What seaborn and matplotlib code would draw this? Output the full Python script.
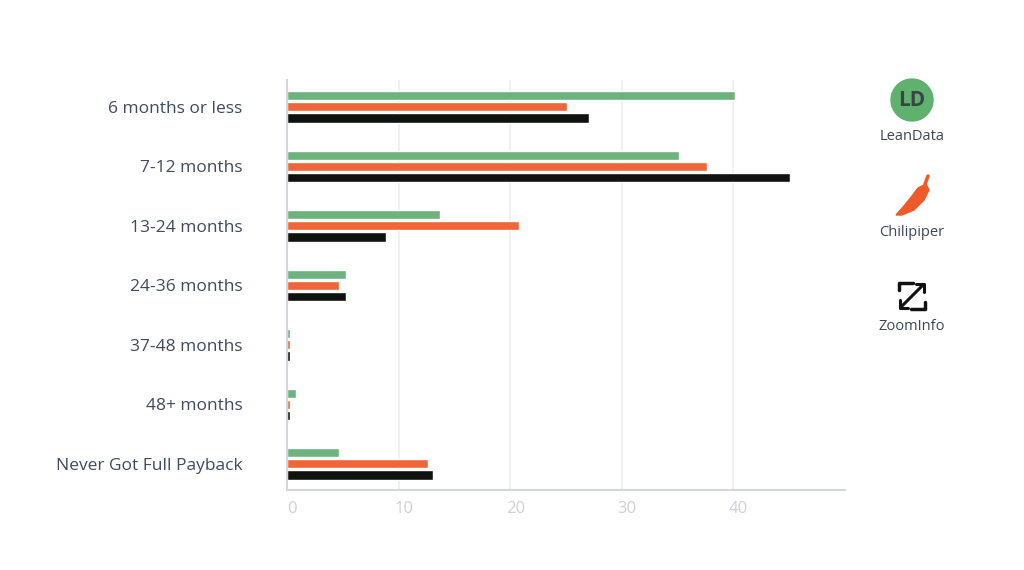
import pandas as pd
import numpy as np
import seaborn as sns
import matplotlib.pyplot as plt
import matplotlib.transforms as mtransforms
from matplotlib.patches import Circle, Polygon

"""
Data
"""
categories = ['6 months or less', '7-12 months', '13-24 months', '24-36 months',
              '37-48 months', '48+ months', 'Never Got Full Payback']
vendors = ['LeanData', 'Chilipiper', 'ZoomInfo']
leandata = [40.1, 35.1, 13.7, 5.3, 0.25, 0.8, 4.7]
chilipiper = [25.1, 37.6, 20.8, 4.7, 0.25, 0.25, 12.6]
zoominfo = [27.1, 45.1, 8.9, 5.3, 0.25, 0.25, 13.1]
x_ticks = [0, 10, 20, 30, 40]

colors = ['#6db37d', '#ee6639', '#101210']

df = pd.DataFrame({
    'Payback': categories * 3,
    'Vendor': [v for v in vendors for _ in categories],
    'Share': leandata + chilipiper + zoominfo,
})

"""
Plot
"""
sns.set_theme(style='white')
plt.rcParams['font.family'] = ['Open Sans', 'DejaVu Sans']

fig = plt.figure(figsize=(10.24, 5.70), dpi=100)
ax = fig.add_axes([287 / 1024, 1 - 490 / 570, 558 / 1024, 410 / 570])

sns.barplot(data=df, y='Payback', x='Share', hue='Vendor', order=categories,
            hue_order=vendors, palette=colors, width=0.56, gap=0.16,
            orient='h', ax=ax, legend=False, saturation=1)

ax.set_xlim(0, 50)
ax.set_ylim(6.44, -0.45)
ax.set_xticks(x_ticks)
ax.xaxis.grid(True, color='#ebedf0', linewidth=1.2)
ax.set_axisbelow(True)
ax.set_xlabel('')
ax.set_ylabel('')
for side in ['top', 'right']:
    ax.spines[side].set_visible(False)
for side in ['left', 'bottom']:
    ax.spines[side].set_color('#d3d7dd')
    ax.spines[side].set_linewidth(1.5)
ax.tick_params(axis='y', labelsize=12.5, colors='#3f4a5e', length=0, pad=32)
ax.tick_params(axis='x', labelsize=12, colors='#cdd1d7', length=0, pad=8)
shift = mtransforms.ScaledTranslation(5 / 100, 0, fig.dpi_scale_trans)
for lbl in ax.get_xticklabels():
    lbl.set_transform(lbl.get_transform() + shift)

"""
Legend with logos
"""
lg = fig.add_axes([860 / 1024, 0, 110 / 1024, 1])
lg.set_xlim(860, 970)
lg.set_ylim(570, 0)
lg.axis('off')

# LeanData
lg.add_patch(Circle((912, 100), 21, color='#5fb16e'))
lg.text(912, 101, 'LD', ha='center', va='center', fontsize=15,
        fontweight='bold', color='#3d4247')
lg.text(912, 136, 'LeanData', ha='center', va='center', fontsize=10.5, color='#3c475a')

# Chilipiper
chili = Polygon([(896, 215), (904, 206), (912, 196), (918, 188), (926, 184),
                 (929, 190), (924, 200), (914, 210), (902, 215)],
                closed=True, color='#ee5a2a')
lg.add_patch(chili)
lg.plot([925, 928], [184, 176], color='#ee5a2a', linewidth=2.5)
lg.text(912, 232, 'Chilipiper', ha='center', va='center', fontsize=10.5, color='#3c475a')

# ZoomInfo
zc = '#111111'
lg.plot([899, 899, 913], [290, 283, 283], color=zc, linewidth=2.5)
lg.plot([925, 925, 911], [302, 309, 309], color=zc, linewidth=2.5)
lg.plot([901, 923], [307, 285], color=zc, linewidth=2.2)
lg.plot([916, 924, 924], [284, 284, 292], color=zc, linewidth=2.2)
lg.plot([900, 900, 908], [300, 308, 308], color=zc, linewidth=2.2)
lg.text(912, 327, 'ZoomInfo', ha='center', va='center', fontsize=10.5, color='#3c475a')

plt.savefig('out.png', dpi=100, facecolor='white')
